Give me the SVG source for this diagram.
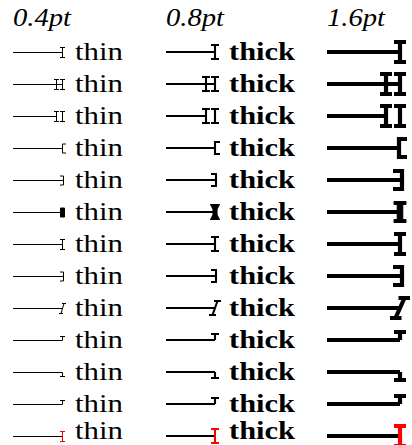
<svg xmlns="http://www.w3.org/2000/svg" width="412" height="445" viewBox="0 0 412 445">
<style>
.bg{fill:#fff}
.ln{fill:none;stroke:#000;stroke-linecap:butt;stroke-linejoin:miter}
.w1{stroke-width:1}
.w2{stroke-width:2.1}
.w3{stroke-width:4.2}
.fl{fill:#000;stroke:#000;stroke-linejoin:miter}
.red{stroke:#f00}
.hd{font-family:"Liberation Serif","DejaVu Serif",serif;font-style:italic;font-size:25px;fill:#000}
.tn{font-family:"Liberation Serif","DejaVu Serif",serif;font-size:25px;fill:#000}
.tk{font-family:"Liberation Serif","DejaVu Serif",serif;font-weight:bold;font-size:25px;fill:#000}
</style>
<defs>
<!-- column 1 tips (0.4pt) -->
<path id="a1" d="M-2.5,-5H2.5M0,-5V5M-2.5,5H2.5"/>
<path id="b1" d="M-8.5,-5H-3.5M-6,-5V5M-8.5,5H-3.5M-2.5,-5H2.5M0,-5V5M-2.5,5H2.5"/>
<path id="c1" d="M3.5,-4.5H0V4.5H3.5"/>
<path id="d1" d="M-2.5,-4.5H1V4.5H-2.5"/>
<path id="e1" d="M-2,-4.5H2V4.5H-2Z"/>
<path id="g1" d="M-0.5,-5H3.5M1.5,-5L-1.5,5M-3.5,5H0.5"/>
<path id="h1" d="M-2.5,-4H2.5M0,-4V0"/>
<path id="i1" d="M-2.5,4H2.5M0,4V0"/>
<!-- column 2 tips (0.8pt) -->
<path id="a2" d="M-4,-7H4M0,-7V7M-4,7H4"/>
<path id="b2" d="M-13,-7H-5M-9,-7V7M-13,7H-5M-4,-7H4M0,-7V7M-4,7H4"/>
<path id="c2" d="M5,-6H0V6H5"/>
<path id="d2" d="M-4,-6H1V6H-4"/>
<path id="e2" d="M-3.5,-7H3.5L1.5,-3V3L3.5,7H-3.5L-1.5,3V-3Z"/>
<path id="g2" d="M-1,-7H6M2.5,-7L-2.5,7M-6,7H1"/>
<path id="h2" d="M-4,-6H4M0,-6V0"/>
<path id="i2" d="M-4,6H4M0,6V0"/>
<!-- column 3 tips (1.6pt) -->
<path id="a3" d="M-6,-10H6M0,-10V10M-6,10H6"/>
<path id="b3" d="M-20,-10H-8M-14,-10V10M-20,10H-8M-6,-10H6M0,-10V10M-6,10H6"/>
<path id="c3" d="M7,-9H-1V9H7"/>
<path id="d3" d="M-7,-9H2V9H-7"/>
<path id="e3" d="M-6,-10.5H6V-7.5H2.8V7.5H6V10.5H-6V7.5H-2.8V-7.5H-6Z"/>
<path id="g3" d="M-1.5,-10H10M4.5,-10L-4.5,10M-10,10H1.5"/>
<path id="h3" d="M-6,-8H6M0,-8V0"/>
<path id="i3" d="M-6,8H6M0,8V0"/>
</defs>
<rect class="bg" width="412" height="445"/>
<g id="headings">
<text class="hd" x="13" y="26" textLength="58" lengthAdjust="spacingAndGlyphs">0.4pt</text>
<text class="hd" x="166" y="26" textLength="58" lengthAdjust="spacingAndGlyphs">0.8pt</text>
<text class="hd" x="327" y="26" textLength="58" lengthAdjust="spacingAndGlyphs">1.6pt</text>
</g>

<!-- column 1 -->
<g id="col1">
<g id="r1c1" transform="translate(62.5,52.5)"><path class="ln w1" d="M-49.5,0H0"/><use href="#a1" class="ln w1"/></g>
<g id="r2c1" transform="translate(62.5,84.5)"><path class="ln w1" d="M-49.5,0H0"/><use href="#b1" class="ln w1"/></g>
<g id="r3c1" transform="translate(62.5,116.5)"><path class="ln w1" d="M-49.5,0H-6"/><use href="#b1" class="ln w1"/></g>
<g id="r4c1" transform="translate(62.5,148.5)"><path class="ln w1" d="M-49.5,0H0"/><use href="#c1" class="ln w1"/></g>
<g id="r5c1" transform="translate(62.5,180.5)"><path class="ln w1" d="M-49.5,0H1"/><use href="#d1" class="ln w1"/></g>
<g id="r6c1" transform="translate(62.5,212.5)"><path class="ln w1" d="M-49.5,0H0"/><use href="#e1" class="fl w1"/></g>
<g id="r7c1" transform="translate(62.5,244.5)"><path class="ln w1" d="M-49.5,0H0"/><use href="#a1" class="ln w1"/></g>
<g id="r8c1" transform="translate(62.5,276.5)"><path class="ln w1" d="M-49.5,0H1"/><use href="#d1" class="ln w1"/></g>
<g id="r9c1" transform="translate(62.5,308.5)"><path class="ln w1" d="M-49.5,0H0"/><use href="#g1" class="ln w1"/></g>
<g id="r10c1" transform="translate(62.5,340.5)"><path class="ln w1" d="M-49.5,0H0"/><use href="#h1" class="ln w1"/></g>
<g id="r11c1" transform="translate(62.5,372.5)"><path class="ln w1" d="M-49.5,0H0"/><use href="#i1" class="ln w1"/></g>
<g id="r12c1" transform="translate(62.5,404.5)"><path class="ln w1" d="M-49.5,0H0"/><use href="#h1" class="ln w1"/></g>
<g id="r13c1" transform="translate(62.5,436.5)"><path class="ln w1" d="M-49.5,0H0"/><use href="#a1" class="ln w1 red"/></g>
<g id="labels1">
<text class="tn" x="75" y="60" textLength="48" lengthAdjust="spacingAndGlyphs">thin</text>
<text class="tn" x="75" y="92" textLength="48" lengthAdjust="spacingAndGlyphs">thin</text>
<text class="tn" x="75" y="124" textLength="48" lengthAdjust="spacingAndGlyphs">thin</text>
<text class="tn" x="75" y="156" textLength="48" lengthAdjust="spacingAndGlyphs">thin</text>
<text class="tn" x="75" y="188" textLength="48" lengthAdjust="spacingAndGlyphs">thin</text>
<text class="tn" x="75" y="220" textLength="48" lengthAdjust="spacingAndGlyphs">thin</text>
<text class="tn" x="75" y="252" textLength="48" lengthAdjust="spacingAndGlyphs">thin</text>
<text class="tn" x="75" y="284" textLength="48" lengthAdjust="spacingAndGlyphs">thin</text>
<text class="tn" x="75" y="316" textLength="48" lengthAdjust="spacingAndGlyphs">thin</text>
<text class="tn" x="75" y="348" textLength="48" lengthAdjust="spacingAndGlyphs">thin</text>
<text class="tn" x="75" y="380" textLength="48" lengthAdjust="spacingAndGlyphs">thin</text>
<text class="tn" x="75" y="412" textLength="48" lengthAdjust="spacingAndGlyphs">thin</text>
<text class="tn" x="75" y="439" textLength="48" lengthAdjust="spacingAndGlyphs">thin</text>
</g>
</g>

<!-- column 2 -->
<g id="col2">
<g id="r1c2" transform="translate(215,52)"><path class="ln w2" d="M-49,0H0"/><use href="#a2" class="ln w2"/></g>
<g id="r2c2" transform="translate(215,84)"><path class="ln w2" d="M-49,0H0"/><use href="#b2" class="ln w2"/></g>
<g id="r3c2" transform="translate(215,116)"><path class="ln w2" d="M-49,0H-9"/><use href="#b2" class="ln w2"/></g>
<g id="r4c2" transform="translate(215,148)"><path class="ln w2" d="M-49,0H0"/><use href="#c2" class="ln w2"/></g>
<g id="r5c2" transform="translate(215,180)"><path class="ln w2" d="M-49,0H1"/><use href="#d2" class="ln w2"/></g>
<g id="r6c2" transform="translate(215,212)"><path class="ln w2" d="M-49,0H0"/><use href="#e2" class="fl w2"/></g>
<g id="r7c2" transform="translate(215,244)"><path class="ln w2" d="M-49,0H0"/><use href="#a2" class="ln w2"/></g>
<g id="r8c2" transform="translate(215,276)"><path class="ln w2" d="M-49,0H1"/><use href="#d2" class="ln w2"/></g>
<g id="r9c2" transform="translate(215,308)"><path class="ln w2" d="M-49,0H0"/><use href="#g2" class="ln w2"/></g>
<g id="r10c2" transform="translate(215,340)"><path class="ln w2" d="M-49,0H0"/><use href="#h2" class="ln w2"/></g>
<g id="r11c2" transform="translate(215,372)"><path class="ln w2" d="M-49,0H0"/><use href="#i2" class="ln w2"/></g>
<g id="r12c2" transform="translate(215,404)"><path class="ln w2" d="M-49,0H0"/><use href="#h2" class="ln w2"/></g>
<g id="r13c2" transform="translate(215,436)"><path class="ln w2" d="M-49,0H0"/><use href="#a2" class="ln w2 red"/></g>
<g id="labels2">
<text class="tk" x="229" y="60" textLength="66" lengthAdjust="spacingAndGlyphs">thick</text>
<text class="tk" x="229" y="92" textLength="66" lengthAdjust="spacingAndGlyphs">thick</text>
<text class="tk" x="229" y="124" textLength="66" lengthAdjust="spacingAndGlyphs">thick</text>
<text class="tk" x="229" y="156" textLength="66" lengthAdjust="spacingAndGlyphs">thick</text>
<text class="tk" x="229" y="188" textLength="66" lengthAdjust="spacingAndGlyphs">thick</text>
<text class="tk" x="229" y="220" textLength="66" lengthAdjust="spacingAndGlyphs">thick</text>
<text class="tk" x="229" y="252" textLength="66" lengthAdjust="spacingAndGlyphs">thick</text>
<text class="tk" x="229" y="284" textLength="66" lengthAdjust="spacingAndGlyphs">thick</text>
<text class="tk" x="229" y="316" textLength="66" lengthAdjust="spacingAndGlyphs">thick</text>
<text class="tk" x="229" y="348" textLength="66" lengthAdjust="spacingAndGlyphs">thick</text>
<text class="tk" x="229" y="380" textLength="66" lengthAdjust="spacingAndGlyphs">thick</text>
<text class="tk" x="229" y="412" textLength="66" lengthAdjust="spacingAndGlyphs">thick</text>
<text class="tk" x="229" y="439" textLength="66" lengthAdjust="spacingAndGlyphs">thick</text>
</g>
</g>

<!-- column 3 -->
<g id="col3">
<g id="r1c3" transform="translate(400,52)"><path class="ln w3" d="M-73,0H0"/><use href="#a3" class="ln w3"/></g>
<g id="r2c3" transform="translate(400,84)"><path class="ln w3" d="M-73,0H0"/><use href="#b3" class="ln w3"/></g>
<g id="r3c3" transform="translate(400,116)"><path class="ln w3" d="M-73,0H-14"/><use href="#b3" class="ln w3"/></g>
<g id="r4c3" transform="translate(400,148)"><path class="ln w3" d="M-73,0H0"/><use href="#c3" class="ln w3"/></g>
<g id="r5c3" transform="translate(400,180)"><path class="ln w3" d="M-73,0H2"/><use href="#d3" class="ln w3"/></g>
<g id="r6c3" transform="translate(400,212)"><path class="ln w3" d="M-73,0H0"/><use href="#e3" class="fl"/></g>
<g id="r7c3" transform="translate(400,244)"><path class="ln w3" d="M-73,0H0"/><use href="#a3" class="ln w3"/></g>
<g id="r8c3" transform="translate(400,276)"><path class="ln w3" d="M-73,0H2"/><use href="#d3" class="ln w3"/></g>
<g id="r9c3" transform="translate(400,308)"><path class="ln w3" d="M-73,0H0"/><use href="#g3" class="ln w3"/></g>
<g id="r10c3" transform="translate(400,340)"><path class="ln w3" d="M-73,0H0"/><use href="#h3" class="ln w3"/></g>
<g id="r11c3" transform="translate(400,372)"><path class="ln w3" d="M-73,0H0"/><use href="#i3" class="ln w3"/></g>
<g id="r12c3" transform="translate(400,404)"><path class="ln w3" d="M-73,0H0"/><use href="#h3" class="ln w3"/></g>
<g id="r13c3" transform="translate(400,436)"><path class="ln w3" d="M-73,0H0"/><use href="#a3" class="ln w3 red"/></g>
</g>
</svg>
